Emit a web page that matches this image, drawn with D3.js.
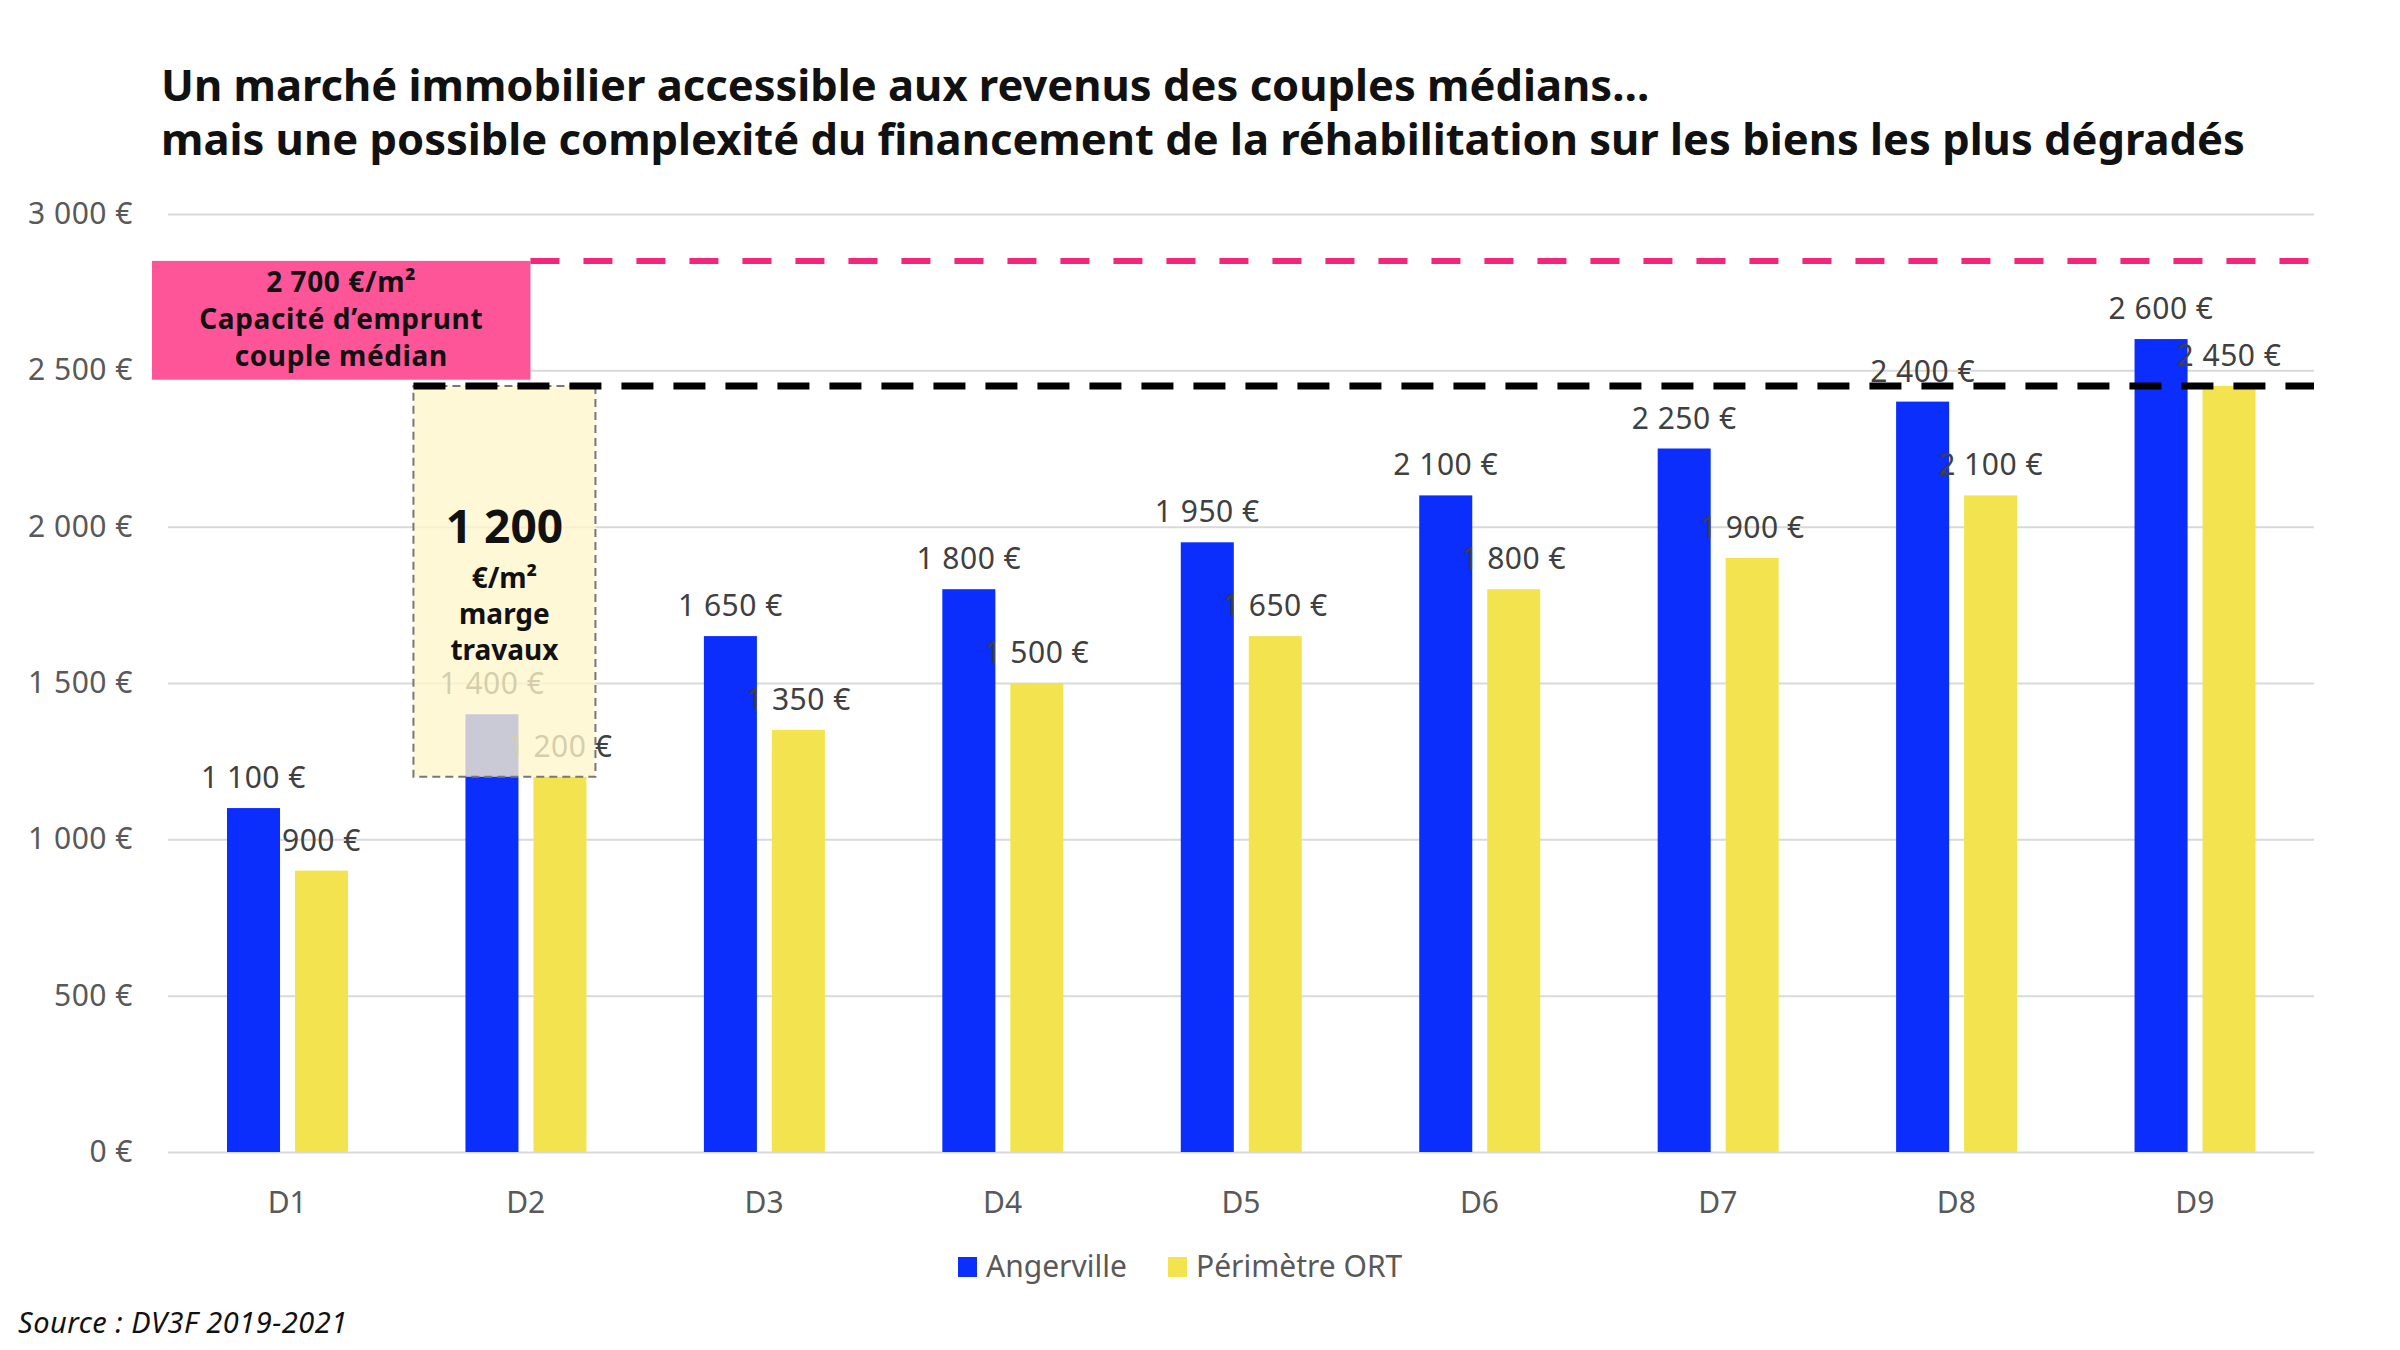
<!DOCTYPE html>
<html>
<head>
<meta charset="utf-8">
<script src="https://cdn.jsdelivr.net/npm/d3@7"></script>
<style>
  body { margin: 0; background: #fff; }
  svg { display: block; }
  text { font-family: "Noto Sans", "Open Sans", sans-serif; }
</style>
</head>
<body>
<script>
"use strict";

const deciles = ["D1", "D2", "D3", "D4", "D5", "D6", "D7", "D8", "D9"];
const angerville = [1100, 1400, 1650, 1800, 1950, 2100, 2250, 2400, 2600];
const perimetreORT = [900, 1200, 1350, 1500, 1650, 1800, 1900, 2100, 2450];
const seriesNames = ["Angerville", "Périmètre ORT"];
const yTicks = [0, 500, 1000, 1500, 2000, 2500, 3000];

// reference lines / annotation values
const capaciteLineValue = 2850;
const capaciteBoxBottom = 2470;
const prixPlafond = 2450;
const margeBas = 1200;

const titleLines = [
    "Un marché immobilier accessible aux revenus des couples médians…",
    "mais une possible complexité du financement de la réhabilitation sur les biens les plus dégradés"
];
const capaciteLabel = ["2 700 €/m²", "Capacité d’emprunt", "couple médian"];
const margeLabel = ["1 200", "€/m²", "marge", "travaux"];
const sourceText = "Source : DV3F 2019-2021";

const colors = {
    blue: "#0B2EFC",
    yellow: "#F3E44F",
    pink: "#FE5599",
    pinkLine: "#F2267A",
    grid: "#D9D9D9",
    axisText: "#595959",
    label: "#404040"
};

const W = 2400, H = 1350;
const plot = { left: 168, right: 2314, top: 214, bottom: 1152 };

const fmt = v => d3.format(",")(v).replace(/,/g, " ") + " €";

const svg = d3.select("body").append("svg")
    .attr("width", W)
    .attr("height", H);

const x = d3.scaleBand()
    .domain(deciles)
    .range([plot.left, plot.right]);

const xs = d3.scaleBand()
    .domain(seriesNames)
    .range([59, 180])
    .paddingInner(0.22);

const y = d3.scaleLinear()
    .domain([0, 3000])
    .range([plot.bottom, plot.top]);

// title
svg.append("g").selectAll("text")
    .data(titleLines)
    .enter().append("text")
    .attr("x", 161)
    .attr("y", (d, i) => 101 + i * 54)
    .style("font-size", "43.5px")
    .style("font-weight", "700")
    .attr("fill", "#111")
    .text(d => d);

// gridlines + y labels
const yAxis = d3.axisLeft(y)
    .tickValues(yTicks)
    .tickSize(-(plot.right - plot.left))
    .tickFormat(fmt);

const gy = svg.append("g")
    .attr("transform", `translate(${plot.left},0)`)
    .call(yAxis);
gy.select(".domain").remove();
gy.selectAll(".tick line").attr("stroke", colors.grid).attr("stroke-width", 2);
gy.selectAll(".tick text")
    .attr("x", -35)
    .attr("fill", colors.axisText)
    .style("font-size", "30px")
    .style("letter-spacing", "0.5px")
    .style("font-family", "'Noto Sans', sans-serif");

// x labels
const xAxis = d3.axisBottom(x).tickSize(0).tickPadding(40);
const gx = svg.append("g")
    .attr("transform", `translate(0,${plot.bottom})`)
    .call(xAxis);
gx.select(".domain").remove();
gx.selectAll(".tick text")
    .attr("fill", colors.axisText)
    .style("font-size", "30px")
    .style("font-family", "'Noto Sans', sans-serif");

// bars
const rows = deciles.map((d, i) => ({
    decile: d,
    values: [
        { key: seriesNames[0], value: angerville[i], color: colors.blue },
        { key: seriesNames[1], value: perimetreORT[i], color: colors.yellow }
    ]
}));

const groups = svg.append("g").selectAll("g")
    .data(rows)
    .enter().append("g")
    .attr("transform", d => `translate(${x(d.decile)},0)`);

groups.selectAll("rect")
    .data(d => d.values)
    .enter().append("rect")
    .attr("x", d => xs(d.key))
    .attr("width", xs.bandwidth())
    .attr("y", d => y(d.value))
    .attr("height", d => y(0) - y(d.value))
    .attr("fill", d => d.color);

groups.selectAll("text")
    .data(d => d.values)
    .enter().append("text")
    .attr("x", d => xs(d.key) + xs.bandwidth() / 2)
    .attr("y", d => y(d.value) - 20)
    .attr("text-anchor", "middle")
    .attr("fill", colors.label)
    .style("font-size", "30px")
    .style("letter-spacing", "0.5px")
    .text(d => fmt(d.value));

// pink box: capacité d'emprunt
const d2Left = x("D2");
const pinkRight = d2Left + 124;
svg.append("rect")
    .attr("x", 152)
    .attr("y", y(capaciteLineValue))
    .attr("width", pinkRight - 152)
    .attr("height", y(capaciteBoxBottom) - y(capaciteLineValue))
    .attr("fill", colors.pink);

svg.append("g").selectAll("text")
    .data(capaciteLabel)
    .enter().append("text")
    .attr("x", (152 + pinkRight) / 2)
    .attr("y", (d, i) => y(capaciteLineValue) + 31 + i * 37)
    .attr("text-anchor", "middle")
    .attr("fill", "#111")
    .style("font-size", "28px")
    .style("letter-spacing", "0.6px")
    .style("font-weight", "700")
    .text(d => d);

svg.append("line")
    .attr("x1", pinkRight)
    .attr("x2", plot.right)
    .attr("y1", y(capaciteLineValue))
    .attr("y2", y(capaciteLineValue))
    .attr("stroke", colors.pinkLine)
    .attr("stroke-width", 6)
    .attr("stroke-dasharray", "29,24");

// yellow marge box
const boxLeft = d2Left + 7;
const boxRight = d2Left + 189;
svg.append("rect")
    .attr("x", boxLeft)
    .attr("y", y(prixPlafond))
    .attr("width", boxRight - boxLeft)
    .attr("height", y(margeBas) - y(prixPlafond))
    .attr("fill", "rgb(255,246,202)")
    .attr("fill-opacity", 0.78)
    .attr("stroke", "#777")
    .attr("stroke-width", 2)
    .attr("stroke-dasharray", "8,5");

svg.append("line")
    .attr("x1", boxLeft)
    .attr("x2", plot.right)
    .attr("y1", y(prixPlafond))
    .attr("y2", y(prixPlafond))
    .attr("stroke", "#000")
    .attr("stroke-width", 7)
    .attr("stroke-dasharray", "32,20");

const mx = (boxLeft + boxRight) / 2;
svg.append("text")
    .attr("x", mx)
    .attr("y", 543)
    .attr("text-anchor", "middle")
    .attr("fill", "#111")
    .style("font-size", "46px")
    .style("font-weight", "700")
    .text(margeLabel[0]);
svg.append("g").selectAll("text")
    .data(margeLabel.slice(1))
    .enter().append("text")
    .attr("x", mx)
    .attr("y", (d, i) => 588 + i * 36)
    .attr("text-anchor", "middle")
    .attr("fill", "#111")
    .style("font-size", "28px")
    .style("font-weight", "700")
    .text(d => d);

// legend
const legend = svg.append("g").attr("transform", "translate(958,1257)");
const legendX = [0, 210];
const legendColors = [colors.blue, colors.yellow];
seriesNames.forEach((name, i) => {
    legend.append("rect")
        .attr("x", legendX[i])
        .attr("y", 0)
        .attr("width", 19)
        .attr("height", 20)
        .attr("fill", legendColors[i]);
    legend.append("text")
        .attr("x", legendX[i] + 28)
        .attr("y", 20)
        .attr("fill", colors.axisText)
        .style("font-size", "30px")
        .text(name);
});

// source
svg.append("text")
    .attr("x", 18)
    .attr("y", 1333)
    .attr("fill", "#111")
    .style("font-size", "29px")
    .style("letter-spacing", "0.5px")
    .style("font-style", "italic")
    .text(sourceText);
</script>
</body>
</html>
